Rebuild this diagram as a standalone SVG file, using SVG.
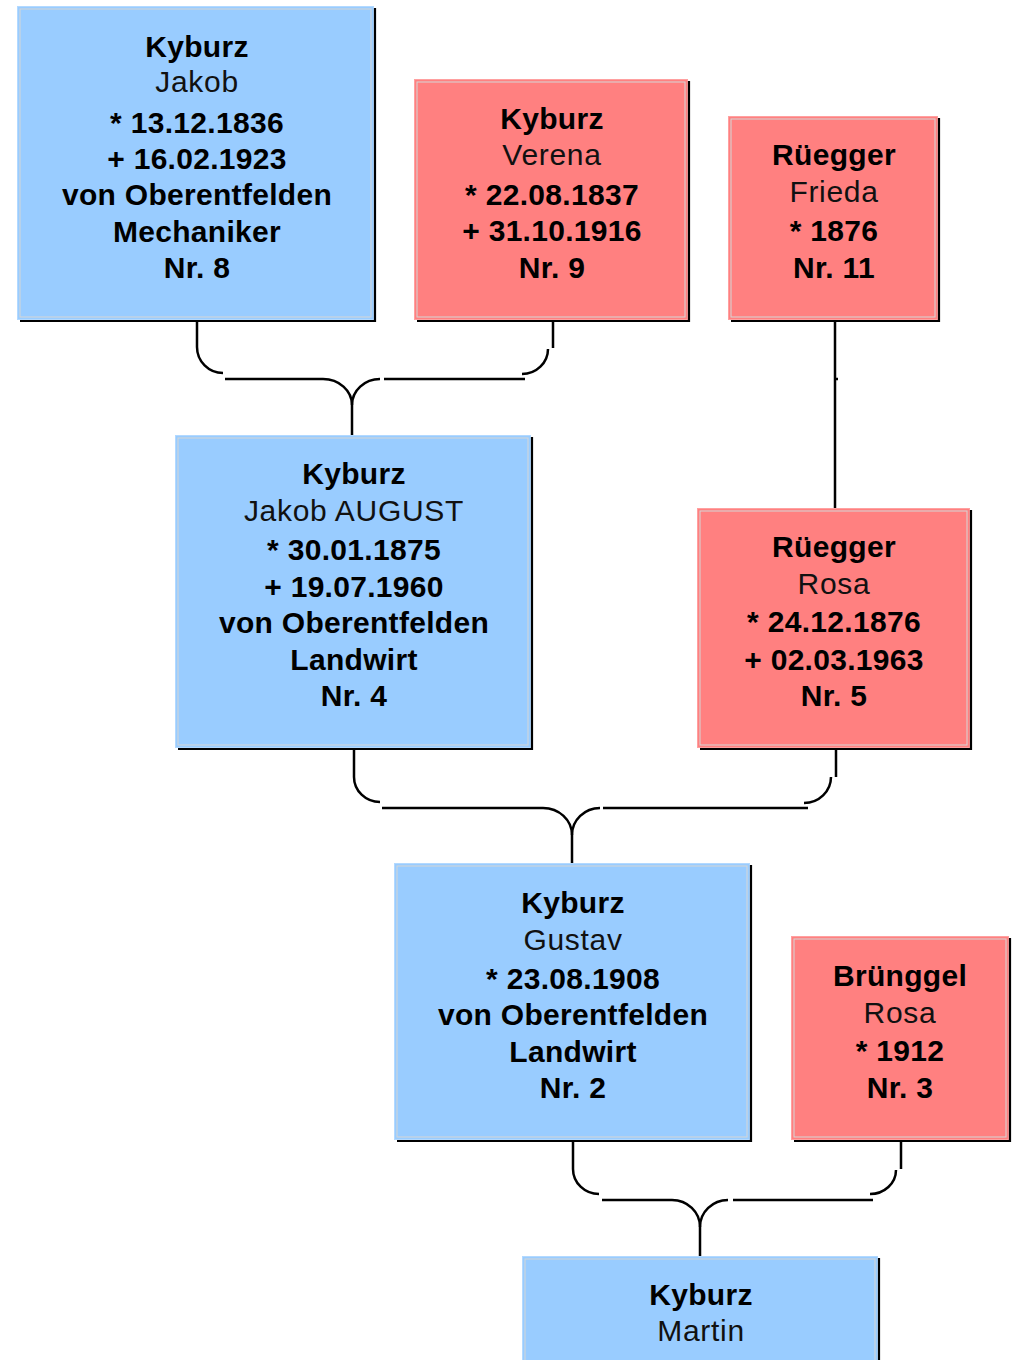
<svg xmlns="http://www.w3.org/2000/svg" width="1012" height="1360" viewBox="0 0 1012 1360">
<style>
.m rect.f{fill:#99CCFF;stroke:#b3d9ff;stroke-width:1}
.w rect.f{fill:#FF8080;stroke:#ffa0a0;stroke-width:1}
rect.i{fill:none;stroke:#d6d6d6;stroke-width:1}
.sh{stroke:#000;stroke-width:2.2;fill:none}
text{font-family:"Liberation Sans",Arial,sans-serif;font-size:30px;text-anchor:middle;fill:#000}
.b{font-weight:bold;letter-spacing:0.3px}
.r{font-weight:normal;fill:#111;letter-spacing:0.7px}
#connectors path{fill:none;stroke:#000;stroke-width:2.5}
</style>
<rect width="1012" height="1360" fill="#fff"/>
<g id="connectors">
<path d="M197,321 V347 A26,26 0 0 0 223,373 M225,379 H323 A29,26 0 0 1 352,405 V435"/>
<path d="M553,321 V348 M548,349 A26,25 0 0 1 522,374 M525,379 H384 M380,379 A28,26 0 0 0 352,405"/>
<path d="M354,749 V777 A26,25 0 0 0 380,802 M382,808 H543 A29,27 0 0 1 572,835 V863"/>
<path d="M836,749 V777 M831,777 A27,26 0 0 1 804,803 M808,808 H603 M600,808 A28,27 0 0 0 572,835"/>
<path d="M573,1141 V1169 A26,25 0 0 0 599,1194 M602,1200 H672 A28,27 0 0 1 700,1227 V1256"/>
<path d="M901,1141 V1169 M896,1170 A26,24 0 0 1 870,1194 M873,1200 H733 M728,1200 A28,27 0 0 0 700,1227"/>
<path d="M835,321 V508 M835,379 H838"/>
</g>
<g id="n8" class="m">
<rect class="f" x="17.5" y="6.5" width="356" height="313"/>
<rect class="i" x="20" y="9" width="351" height="308"/>
<path class="sh" d="M375,8 V322 M20,321 H376"/>
<text x="197" y="57" class="b">Kyburz</text>
<text x="197" y="92" class="r">Jakob</text>
<text x="197" y="133" class="b">* 13.12.1836</text>
<text x="197" y="169" class="b">+ 16.02.1923</text>
<text x="197" y="205" class="b">von Oberentfelden</text>
<text x="197" y="242" class="b">Mechaniker</text>
<text x="197" y="278" class="b">Nr. 8</text>
</g>
<g id="n9" class="w">
<rect class="f" x="414.5" y="79.5" width="273" height="240"/>
<rect class="i" x="417" y="82" width="268" height="235"/>
<path class="sh" d="M689,81 V322 M417,321 H690"/>
<text x="552" y="129" class="b">Kyburz</text>
<text x="552" y="165" class="r">Verena</text>
<text x="552" y="205" class="b">* 22.08.1837</text>
<text x="552" y="241" class="b">+ 31.10.1916</text>
<text x="552" y="278" class="b">Nr. 9</text>
</g>
<g id="n11" class="w">
<rect class="f" x="728.5" y="116.5" width="209" height="203"/>
<rect class="i" x="731" y="119" width="204" height="198"/>
<path class="sh" d="M939,118 V322 M731,321 H940"/>
<text x="834" y="165" class="b">Rüegger</text>
<text x="834" y="202" class="r">Frieda</text>
<text x="834" y="241" class="b">* 1876</text>
<text x="834" y="278" class="b">Nr. 11</text>
</g>
<g id="n4" class="m">
<rect class="f" x="175.5" y="435.5" width="355" height="312"/>
<rect class="i" x="178" y="438" width="350" height="307"/>
<path class="sh" d="M532,437 V750 M178,749 H533"/>
<text x="354" y="484" class="b">Kyburz</text>
<text x="354" y="521" class="r">Jakob AUGUST</text>
<text x="354" y="560" class="b">* 30.01.1875</text>
<text x="354" y="597" class="b">+ 19.07.1960</text>
<text x="354" y="633" class="b">von Oberentfelden</text>
<text x="354" y="670" class="b">Landwirt</text>
<text x="354" y="706" class="b">Nr. 4</text>
</g>
<g id="n5" class="w">
<rect class="f" x="697.5" y="508.5" width="272" height="239"/>
<rect class="i" x="700" y="511" width="267" height="234"/>
<path class="sh" d="M971,510 V750 M700,749 H972"/>
<text x="834" y="557" class="b">Rüegger</text>
<text x="834" y="594" class="r">Rosa</text>
<text x="834" y="632" class="b">* 24.12.1876</text>
<text x="834" y="670" class="b">+ 02.03.1963</text>
<text x="834" y="706" class="b">Nr. 5</text>
</g>
<g id="n2" class="m">
<rect class="f" x="394.5" y="863.5" width="355" height="276"/>
<rect class="i" x="397" y="866" width="350" height="271"/>
<path class="sh" d="M751,865 V1142 M397,1141 H752"/>
<text x="573" y="913" class="b">Kyburz</text>
<text x="573" y="950" class="r">Gustav</text>
<text x="573" y="989" class="b">* 23.08.1908</text>
<text x="573" y="1025" class="b">von Oberentfelden</text>
<text x="573" y="1062" class="b">Landwirt</text>
<text x="573" y="1098" class="b">Nr. 2</text>
</g>
<g id="n3" class="w">
<rect class="f" x="791.5" y="936.5" width="217" height="203"/>
<rect class="i" x="794" y="939" width="212" height="198"/>
<path class="sh" d="M1010,938 V1142 M794,1141 H1011"/>
<text x="900" y="986" class="b">Brünggel</text>
<text x="900" y="1023" class="r">Rosa</text>
<text x="900" y="1061" class="b">* 1912</text>
<text x="900" y="1098" class="b">Nr. 3</text>
</g>
<g id="n1" class="m">
<rect class="f" x="522.5" y="1256.5" width="355" height="120"/>
<rect class="i" x="525" y="1259" width="350" height="120"/>
<path class="sh" d="M879,1258 V1362"/>
<text x="701" y="1305" class="b">Kyburz</text>
<text x="701" y="1341" class="r">Martin</text>
</g>
</svg>
